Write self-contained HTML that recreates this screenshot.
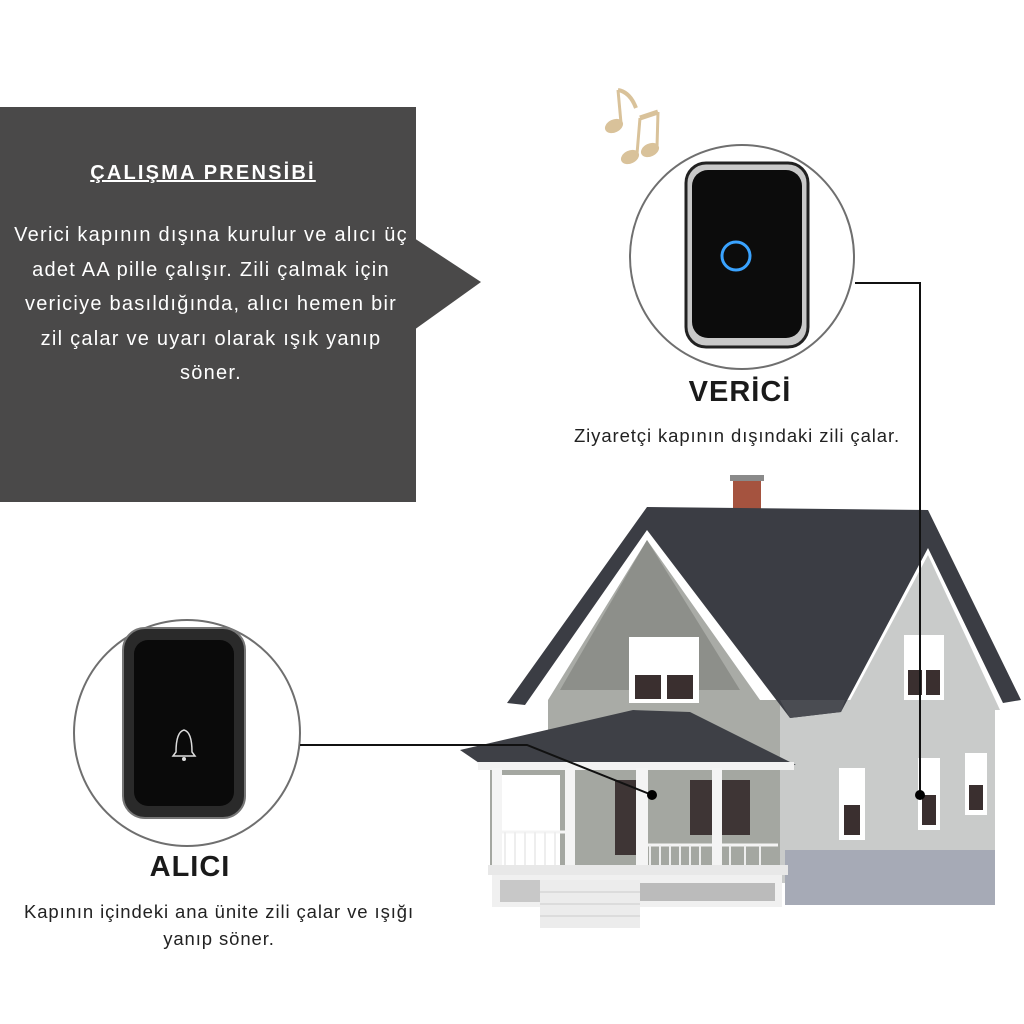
<!DOCTYPE html>
<html><head><meta charset="utf-8"><style>
html,body{margin:0;padding:0;background:#fff;}
body{width:1024px;height:1024px;position:relative;overflow:hidden;font-family:"Liberation Sans",sans-serif;}
.t{position:absolute;white-space:nowrap;}
</style></head><body>
<svg width="1024" height="1024" style="position:absolute;left:0;top:0">
  <rect x="0" y="107" width="416" height="395" fill="#4a4949"/>
  <polygon points="414,238 481,282 414,330" fill="#4a4949"/>
  <g fill="#d9c29a" stroke="#d9c29a">
    <ellipse cx="614" cy="126" rx="9" ry="6" transform="rotate(-25 614 126)"/>
    <line x1="621" y1="123" x2="618" y2="90" stroke-width="3"/>
    <path d="M618 90 Q630 92 636 108" stroke-width="4" fill="none"/>
    <ellipse cx="630" cy="157" rx="9" ry="6" transform="rotate(-25 630 157)"/>
    <ellipse cx="650" cy="150" rx="9" ry="6" transform="rotate(-25 650 150)"/>
    <line x1="637" y1="154" x2="640" y2="118" stroke-width="3"/>
    <line x1="657" y1="147" x2="658" y2="112" stroke-width="3"/>
    <line x1="640" y1="118" x2="658" y2="112" stroke-width="5"/>
  </g>
  <circle cx="742" cy="257" r="112" fill="#fff" stroke="#6f6f6f" stroke-width="2"/>
  <rect x="686" y="163" width="122" height="184" rx="20" fill="#c9c9c9" stroke="#222" stroke-width="3"/>
  <rect x="692" y="170" width="110" height="168" rx="16" fill="#0c0c0c"/>
  <circle cx="736" cy="256" r="14" fill="none" stroke="#3aa3ff" stroke-width="3"/>
  <circle cx="187" cy="733" r="113" fill="#fff" stroke="#6f6f6f" stroke-width="2"/>
  <rect x="123" y="628" width="122" height="190" rx="22" fill="#2a2a2a" stroke="#777" stroke-width="2"/>
  <rect x="134" y="640" width="100" height="166" rx="14" fill="#0a0a0a"/>
  <path d="M176 752 Q176 732 184 730 Q192 732 192 752 L195 756 L173 756 Z" fill="none" stroke="#ddd" stroke-width="1.5"/>
  <circle cx="184" cy="759" r="2" fill="#ddd"/>
  <rect x="733" y="477" width="28" height="38" fill="#a5533f"/>
  <rect x="730" y="475" width="34" height="6" fill="#8a8a8a"/>
  <polygon points="647,540 548,700 548,870 800,870 800,700 760,700" fill="#a9aba6"/>
  <polygon points="647,540 560,690 740,690" fill="#8d8f8a"/>
  <rect x="780" y="700" width="215" height="183" fill="#c9cbca"/>
  <polygon points="928,555 845,710 1000,710" fill="#c9cbca"/>
  <rect x="785" y="850" width="210" height="55" fill="#a6aab6"/>
  <polygon points="507,703 647,507 928,510 1021,700 1003,703 928,548 841,712 790,718 647,530 525,705" fill="#3b3d44"/>
  <polygon points="790,718 841,712 845,700 780,700" fill="#4a4c52"/>
  <g fill="#fff"><rect x="629" y="637" width="70" height="66"/><rect x="904" y="635" width="40" height="65"/><rect x="839" y="768" width="26" height="72"/><rect x="918" y="758" width="22" height="72"/><rect x="965" y="753" width="22" height="62"/></g>
  <g fill="#3a2f2f"><rect x="635" y="675" width="26" height="24"/><rect x="667" y="675" width="26" height="24"/><rect x="908" y="670" width="14" height="25"/><rect x="926" y="670" width="14" height="25"/><rect x="844" y="805" width="16" height="30"/><rect x="922" y="795" width="14" height="30"/><rect x="969" y="785" width="14" height="25"/></g>
  <rect x="490" y="765" width="290" height="100" fill="#a4a7a1"/>
  <rect x="500" y="775" width="60" height="90" fill="#fff"/>
  <rect x="615" y="780" width="25" height="75" fill="#3e3535"/>
  <rect x="690" y="780" width="60" height="55" fill="#3e3535"/>
  <polygon points="460,750 633,710 690,712 796,765 482,765" fill="#3e4046"/>
  <rect x="478" y="762" width="316" height="8" fill="#f2f2f2"/>
  <g fill="#f4f4f4"><rect x="492" y="768" width="10" height="100"/><rect x="565" y="768" width="10" height="100"/><rect x="636" y="768" width="12" height="100"/><rect x="712" y="768" width="10" height="100"/></g>
  <g stroke="#f4f4f4" stroke-width="3"><line x1="500" y1="832" x2="565" y2="832"/><line x1="640" y1="845" x2="778" y2="845"/></g>
  <g stroke="#eee" stroke-width="2"><line x1="505" y1="832" x2="505" y2="865"/><line x1="515" y1="832" x2="515" y2="865"/><line x1="525" y1="832" x2="525" y2="865"/><line x1="535" y1="832" x2="535" y2="865"/><line x1="545" y1="832" x2="545" y2="865"/><line x1="555" y1="832" x2="555" y2="865"/><line x1="650" y1="845" x2="650" y2="875"/><line x1="660" y1="845" x2="660" y2="875"/><line x1="670" y1="845" x2="670" y2="875"/><line x1="680" y1="845" x2="680" y2="875"/><line x1="690" y1="845" x2="690" y2="875"/><line x1="700" y1="845" x2="700" y2="875"/><line x1="730" y1="845" x2="730" y2="875"/><line x1="745" y1="845" x2="745" y2="875"/><line x1="760" y1="845" x2="760" y2="875"/></g>
  <rect x="488" y="865" width="300" height="10" fill="#e8e8e8"/>
  <rect x="492" y="875" width="290" height="32" fill="#f0f0f0"/>
  <rect x="640" y="883" width="135" height="18" fill="#bbb"/>
  <rect x="500" y="880" width="45" height="22" fill="#c8c8c8"/>
  <rect x="540" y="880" width="100" height="48" fill="#ececec"/>
  <g stroke="#ccc"><line x1="540" y1="892" x2="640" y2="892"/><line x1="540" y1="904" x2="640" y2="904"/><line x1="540" y1="916" x2="640" y2="916"/></g>
  <g stroke="#111" stroke-width="2" fill="none">
    <polyline points="855,283 920,283 920,795"/>
    <polyline points="300,745 527,745 652,795"/>
  </g>
  <circle cx="920" cy="795" r="5" fill="#000"/>
  <circle cx="652" cy="795" r="5" fill="#000"/>
</svg>
<div class="t" style="left:0;width:406px;text-align:center;top:162px;color:#fff;font-weight:bold;font-size:20px;letter-spacing:2.2px;text-decoration:underline;">ÇALIŞMA PRENSİBİ</div>
<div class="t" style="left:0;width:422px;text-align:center;top:218px;color:#fff;font-size:20px;letter-spacing:1.25px;line-height:34.5px;">Verici kapının dışına kurulur ve alıcı üç<br>adet AA pille çalışır. Zili çalmak için<br>vericiye basıldığında, alıcı hemen bir<br>zil çalar ve uyarı olarak ışık yanıp<br>söner.</div>
<div class="t" style="left:640px;width:200px;text-align:center;top:376px;color:#1a1a1a;font-weight:bold;font-size:29px;letter-spacing:1px;">VERİCİ</div>
<div class="t" style="left:537px;width:400px;text-align:center;top:425px;color:#222;font-size:18.5px;letter-spacing:0.9px;">Ziyaretçi kapının dışındaki zili çalar.</div>
<div class="t" style="left:90px;width:200px;text-align:center;top:851px;color:#1a1a1a;font-weight:bold;font-size:29px;letter-spacing:1px;">ALICI</div>
<div class="t" style="left:0;width:438px;text-align:center;top:898px;color:#222;font-size:18.5px;letter-spacing:0.9px;line-height:27px;">Kapının içindeki ana ünite zili çalar ve ışığı<br>yanıp söner.</div>
</body></html>
